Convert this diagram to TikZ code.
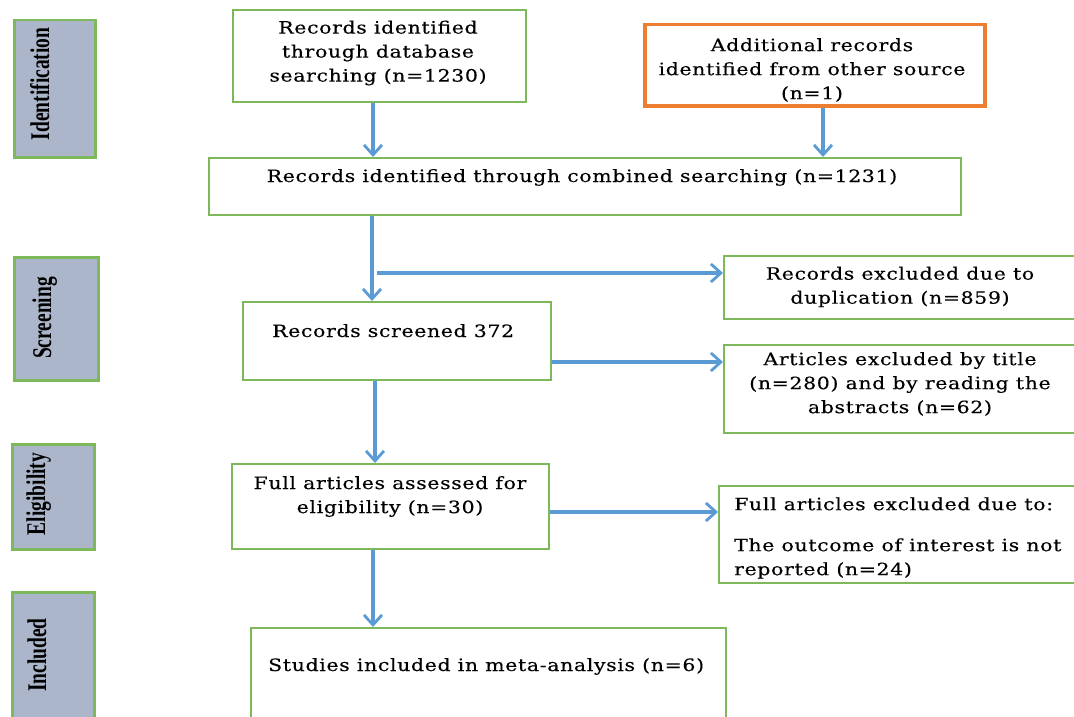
\documentclass[tikz,border=0pt]{standalone}
\usepackage{fontspec}
\setmainfont{DejaVu Serif}[FakeStretch=1.2,LetterSpace=4,FakeBold=0.3]
\newfontfamily\labfont{Liberation Serif}
\usetikzlibrary{arrows.meta,calc}
\definecolor{boxgreen}{RGB}{125,185,90}
\definecolor{boxorange}{RGB}{237,125,49}
\definecolor{arrblue}{RGB}{91,155,213}
\definecolor{panelfill}{RGB}{172,182,202}
\tikzset{
  box/.style={draw=boxgreen, line width=1.8pt, fill=white, inner sep=0pt, anchor=north west},
  obox/.style={draw=boxorange, line width=3.5pt, fill=white, inner sep=0pt, anchor=north west},
  panel/.style={draw=boxgreen, line width=2.5pt, fill=panelfill, inner sep=0pt, anchor=north west},
  txt/.style={inner sep=0pt, font=\fontsize{17}{24}\selectfont, text=black},
  lab/.style={inner sep=0pt, rotate=90, anchor=base, font=\labfont\bfseries\fontsize{27}{30}\selectfont, text=black},
  arr/.style={draw=arrblue, line width=3.2pt, -{Straight Barb[length=10pt,width=18pt,line width=2.8pt]}}
}
\begin{document}
\begin{tikzpicture}[x=1pt,y=-1pt]
\useasboundingbox (0,0) rectangle (1074,717);
% side panels
\node[panel, minimum width=81pt, minimum height=137pt] (p1) at (13,19) {};
\node[panel, minimum width=84pt, minimum height=123pt] (p2) at (13,256) {};
\node[panel, minimum width=82pt, minimum height=105pt] (p3) at (11,443) {};
\node[panel, minimum width=82pt, minimum height=140pt] (p4) at (11,591) {};
\node[lab] (l1) at (49,84) {\scalebox{0.72}[1]{Identification}};
\node[lab] (l2) at (51,318) {\scalebox{0.72}[1]{Screening}};
\node[lab] (l3) at (45,494) {\scalebox{0.72}[1]{Eligibility}};
\node[lab] (l4) at (46,655) {\scalebox{0.72}[1]{Included}};
% boxes
\node[box, minimum width=293pt, minimum height=92pt] (b1) at (232,9) {};
\node[obox, minimum width=340pt, minimum height=81pt] (b2) at (643,23) {};
\node[box, minimum width=752pt, minimum height=57pt] (b3) at (208,157) {};
\node[box, minimum width=308pt, minimum height=78pt] (b4) at (242,301) {};
\node[box, minimum width=360pt, minimum height=63pt] (b5) at (723,255) {};
\node[box, minimum width=360pt, minimum height=88pt] (b6) at (723,344) {};
\node[box, minimum width=317pt, minimum height=85pt] (b7) at (231,463) {};
\node[box, minimum width=365pt, minimum height=97pt] (b8) at (718,485) {};
\node[box, minimum width=475pt, minimum height=100pt] (b9) at (250,627) {};
% texts
\node[txt, align=center] (t1) at (378,53) {Records identified\\through database\\searching (n=1230)};
\node[txt, align=center] (t2) at (812,70) {Additional records\\identified from  other source\\(n=1)};
\node[txt, anchor=base] (t3) at (582,182) {Records identified through combined searching (n=1231)};
\node[txt, anchor=base west] (t4) at (272,337) {Records screened 372};
\node[txt, align=center] (t5) at (900,287) {Records excluded due to\\duplication (n=859)};
\node[txt, align=center] (t6) at (900,384) {Articles excluded by title\\(n=280)  and by reading the\\abstracts (n=62)};
\node[txt, align=center] (t7) at (390,496.5) {Full articles assessed for\\eligibility (n=30)};
\node[txt, align=left, anchor=west] (t8) at (734,538) {Full articles excluded due to:\\[17pt]The outcome of interest is not\\reported (n=24)};
\node[txt, anchor=base west] (t9) at (268,671) {Studies included in meta-analysis (n=6)};
% helper coordinates
\coordinate (x1) at (373,0);
\coordinate (x2) at (823,0);
\coordinate (x3) at (372,0);
\coordinate (br) at (377,273);
\coordinate (y6) at (0,362);
\coordinate (x4) at (375,0);
\coordinate (y8) at (0,512);
\coordinate (x5) at (373,0);
% connectors
\draw[arr] (b1.south -| x1) -- (b3.north -| x1);
\draw[arr] (b2.south -| x2) -- (b3.north -| x2);
\draw[arr] (b3.south -| x3) -- (b4.north -| x3);
\draw[arr] (br) -- (b5.west |- br);
\draw[arr] (b4.east |- y6) -- (b6.west |- y6);
\draw[arr] (b4.south -| x4) -- (b7.north -| x4);
\draw[arr] (b7.east |- y8) -- (b8.west |- y8);
\draw[arr] (b7.south -| x5) -- (b9.north -| x5);
\end{tikzpicture}
\end{document}
